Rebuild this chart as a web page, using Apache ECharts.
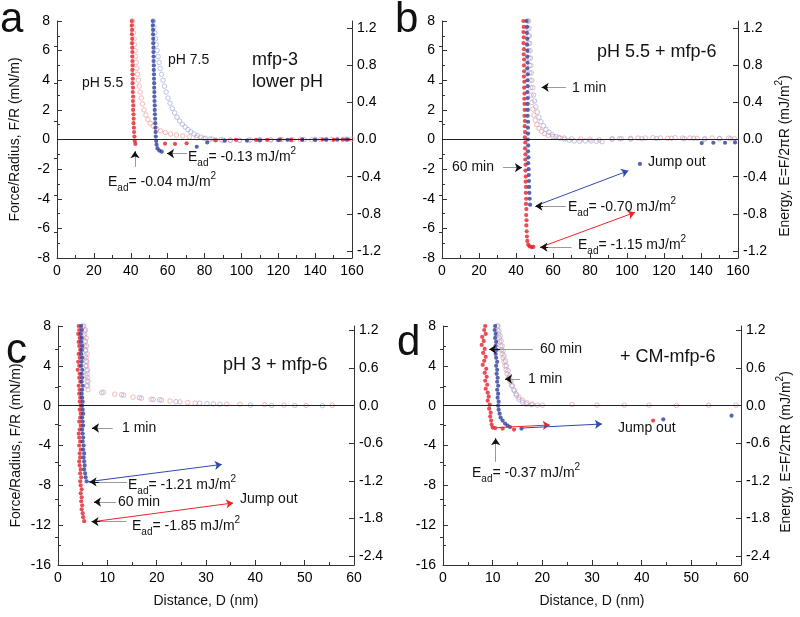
<!DOCTYPE html>
<html>
<head>
<meta charset="utf-8">
<script src="https://cdn.jsdelivr.net/npm/echarts@6/dist/echarts.min.js"></script>
<style>
  html, body { margin: 0; padding: 0; background: #fff; }
  #chart { width: 800px; height: 617px; }
</style>
</head>
<body>
<div id="chart"></div>
<script>
const FONT = '"Liberation Sans", Arial, sans-serif';
const RED = '#e1222a', BLUE = '#2d3f9c', RED_O = '#f09ca0', BLUE_O = '#a3acd9';

// ---- panel a: mfp-3, pH 5.5 (red) / pH 7.5 (blue)   [D nm, F/R mN/m]
const aRedFilled = [[40.6,8.0],[40.6,7.7],[40.7,7.4],[40.6,7.1],[40.8,6.8],[40.7,6.5],[40.8,6.2],[40.9,5.9],[40.8,5.6],[40.9,5.3],[41.0,5.0],[40.9,4.7],[41.0,4.4],[41.1,4.1],[41.0,3.8],[41.2,3.5],[41.1,3.2],[41.3,2.9],[41.2,2.6],[41.4,2.3],[41.3,2.0],[41.5,1.7],[41.6,1.4],[41.5,1.1],[41.7,0.8],[41.8,0.5],[42.0,0.2],[42.2,-0.1],[42.5,-0.3],
  [58.6,-0.28],[64,-0.3],[70.3,-0.26],[86,-0.05],[97,-0.02],[108,-0.03],[114,-0.03],[121,0],[127,-0.03],[133,-0.02],[144,0],[150,-0.02],[155,0],[158,0]];
const aRedOpen = [[41.0,8.0],[41.3,7.6],[41.5,7.2],[41.8,6.8],[42.0,6.4],[42.3,6.0],[42.6,5.6],[42.9,5.2],[43.3,4.8],[43.7,4.4],[44.1,4.0],[44.6,3.6],[45.1,3.2],[45.7,2.8],[46.4,2.4],[47.2,2.0],[48.2,1.65],[49.3,1.35],[50.6,1.1],[52.2,0.9],[54.0,0.72],[56.2,0.58],[58.8,0.47],[61.6,0.37],[64.8,0.3],[68.2,0.24],[71.8,0.18],[75.6,0.12],[79.6,0.07],[84,0.04],[89,0.0],[94,-0.03],[99,-0.05],[105,-0.03],[110,-0.02],[116,-0.03],[121,0],[127,-0.02],[132,0.0],[138,-0.02],[143,0.0],[149,0.01],[155,0],[160,0.02]];
const aBlueFilled = [[52.0,8.0],[52.0,7.7],[52.1,7.4],[52.1,7.1],[52.2,6.8],[52.2,6.5],[52.3,6.2],[52.3,5.9],[52.4,5.6],[52.4,5.3],[52.5,5.0],[52.5,4.7],[52.6,4.4],[52.6,4.1],[52.7,3.8],[52.7,3.5],[52.8,3.2],[52.8,2.9],[52.9,2.6],[53.0,2.3],[53.0,2.0],[53.1,1.7],[53.2,1.4],[53.3,1.1],[53.4,0.8],[53.5,0.5],[53.6,0.2],[53.8,-0.1],[54.0,-0.35],[54.5,-0.6],[55.5,-0.75],[56.8,-0.82],
  [75.8,-0.49],[81.5,-0.2],[91,-0.08],[103,-0.07],[110,-0.05],[120,-0.05],[125,-0.02],[133,0],[140,-0.03],[146,-0.01],[152,0],[157,0]];
const aBlueOpen = [[52.3,8.0],[52.6,7.6],[53.0,7.2],[53.4,6.8],[53.8,6.4],[54.3,6.0],[54.8,5.6],[55.4,5.2],[56.0,4.8],[56.7,4.4],[57.5,4.0],[58.3,3.6],[59.2,3.2],[60.2,2.8],[61.3,2.45],[62.5,2.1],[63.8,1.8],[65.1,1.5],[66.5,1.25],[68.0,1.03],[69.5,0.84],[71.0,0.67],[72.6,0.52],[74.3,0.38],[76.1,0.26],[78.1,0.16],[80.4,0.08],[83,0.02],[86,-0.03],[90,-0.05],[94,-0.06],[99,-0.05],[104,-0.04],[110,-0.02],[116,-0.03],[122,-0.01],[128,-0.02],[134,0],[140,0.01],[146,0],[152,0.01],[157,0.02]];

// ---- panel b: pH 5.5 + mfp-6, 60 min (red) / 1 min (blue)
const bRedFilled = [[44.0,8.0],[44.2,7.6],[44.0,7.25],[44.2,6.9],[44.1,6.5],[44.3,6.1],[44.2,5.75],[44.4,5.4],[44.3,5.0],[44.4,4.6],[44.3,4.25],[44.5,3.9],[44.4,3.5],[44.6,3.1],[44.5,2.75],[44.6,2.4],[44.7,2.0],[44.6,1.6],[44.8,1.25],[44.7,0.9],[44.9,0.5],[44.8,0.15],[45.0,-0.2],[44.9,-0.6],[45.1,-1.0],[45.0,-1.35],[45.2,-1.7],[45.1,-2.1],[45.3,-2.5],[45.2,-2.85],[45.4,-3.2],[45.3,-3.6],[45.5,-4.0],[45.4,-4.35],[45.6,-4.7],[45.5,-5.1],[45.7,-5.45],[45.6,-5.8],[45.8,-6.2],[45.9,-6.55],[46.1,-6.85],[46.6,-7.1],[47.4,-7.22],[48.4,-7.26],[49.4,-7.25]];
const bRedOpen = [[46.2,8.0],[46.4,7.5],[46.6,7.0],[46.7,6.5],[46.9,6.0],[47.0,5.5],[47.2,5.0],[47.4,4.5],[47.6,4.0],[47.9,3.5],[48.2,3.0],[48.6,2.5],[49.1,2.05],[49.7,1.65],[50.4,1.3],[51.3,1.0],[52.4,0.75],[53.8,0.55],[55.5,0.4],[57.5,0.28],[60,0.2],[63,0.14],[66,0.1],[70,0.05],[75,0.03],[80,0.02],[85,-0.02],[92,0.05],[97,0.06],[102,0.08],[106,0.1],[110,0.1],[114,0.12],[118,0.1],[122,0.08],[126,0.12],[130,0.1],[134,0.1],[138,0.08],[142,0.05],[146,0.1],[150,0.07],[155,0.1],[158,0.05]];
const bBlueFilled = [[45.8,8.0],[46.0,7.6],[45.9,7.2],[46.1,6.8],[46.0,6.4],[46.2,6.0],[46.1,5.6],[46.2,5.2],[46.1,4.8],[46.3,4.4],[46.2,4.0],[46.3,3.6],[46.2,3.2],[46.4,2.8],[46.3,2.4],[46.4,2.0],[46.3,1.6],[46.5,1.2],[46.4,0.8],[46.5,0.4],[46.4,0.0],[46.6,-0.4],[46.5,-0.8],[46.7,-1.2],[46.6,-1.6],[46.8,-2.0],[46.9,-2.4],[47.0,-2.8],[47.1,-3.2],[47.2,-3.6],[47.4,-4.0],[47.6,-4.4],
  [107,-1.65],[140.4,-0.24],[146.7,-0.22],[153,-0.22],[158.4,-0.2]];
const bBlueOpen = [[46.8,8.0],[47.0,7.5],[47.2,7.0],[47.4,6.5],[47.6,6.0],[47.8,5.5],[48.0,5.0],[48.3,4.5],[48.6,4.0],[49.0,3.5],[49.5,3.0],[50.0,2.6],[50.7,2.2],[51.5,1.85],[52.4,1.5],[53.5,1.2],[54.8,0.92],[56.2,0.68],[57.8,0.48],[59.6,0.32],[61.6,0.2],[63.8,0.1],[66.2,0.02],[68.8,-0.05],[71.5,-0.1],[74.5,-0.12],[77.5,-0.1],[80.5,-0.1],[83.5,-0.12],[86.5,-0.15],[92,0.02],[96,0.05],[102,0.02],[108,0.05],[116,0.06],[124,0.08],[131,0.05],[136,0.08],[142,0.02],[150,0.04],[156,0.05]];

// ---- panel c: pH 3 + mfp-6
const cRedFilled = [[4.2,8.0],[4.3,7.6],[4.1,7.2],[4.4,6.8],[4.2,6.4],[4.3,6.0],[4.5,5.6],[4.2,5.2],[4.4,4.8],[4.1,4.4],[4.3,4.0],[4.0,3.6],[4.4,3.2],[4.3,2.8],[4.5,2.4],[4.2,2.0],[4.4,1.6],[4.3,1.2],[4.5,0.8],[4.4,0.4],[4.6,0.0],[4.4,-0.4],[4.6,-0.8],[4.5,-1.2],[4.3,-1.6],[4.6,-2.0],[4.4,-2.4],[4.2,-2.8],[4.3,-3.2],[4.5,-3.6],[4.3,-4.0],[4.6,-4.4],[4.4,-4.8],[4.5,-5.2],[4.3,-5.6],[4.4,-6.0],[4.6,-6.4],[4.5,-6.8],[4.7,-7.2],[4.5,-7.6],[4.6,-8.0],[4.8,-8.4],[4.6,-8.8],[4.8,-9.2],[4.7,-9.6],[4.9,-10.0],[4.8,-10.4],[5.0,-10.8],[5.1,-11.2],[5.3,-11.6]];
const cRedOpen = [[5.0,8.0],[5.6,7.6],[5.4,7.2],[5.7,6.8],[5.5,6.4],[5.8,6.0],[5.6,5.6],[5.9,5.2],[5.7,4.8],[5.9,4.4],[5.8,4.0],[6.0,3.6],[5.9,3.2],[6.0,2.8],[6.1,2.4],[6.0,2.0],[6.1,1.6],[8.85,1.3],[11.5,1.15],[13.3,1.05],[15.2,0.85],[16.9,0.75],[18.9,0.64],[21.0,0.55],[22.7,0.47],[24.7,0.38],[26.3,0.32],[27.8,0.25],[31.5,0.18],[34.2,0.15],[36.9,0.15],[41.9,0.1],[45.8,0.05],[50.3,0.02],[55.6,0.03]];
const cBlueFilled = [[4.7,8.0],[4.8,7.6],[4.6,7.2],[4.8,6.8],[4.7,6.4],[4.9,6.0],[4.8,5.6],[4.7,5.2],[4.9,4.8],[4.8,4.4],[4.7,4.0],[4.9,3.6],[4.8,3.2],[4.9,2.8],[4.8,2.4],[5.0,2.0],[4.9,1.6],[4.8,1.2],[4.9,0.8],[5.0,0.4],[4.9,0.0],[5.0,-0.4],[5.1,-0.8],[4.9,-1.2],[5.0,-1.6],[5.1,-2.0],[4.9,-2.4],[5.0,-2.8],[5.1,-3.2],[5.0,-3.6],[5.2,-4.0],[5.1,-4.4],[5.3,-4.8],[5.2,-5.2],[5.3,-5.6],[5.4,-6.0],[5.3,-6.4],[5.5,-6.8],[5.6,-7.2],[5.8,-7.6]];
const cBlueOpen = [[5.2,8.0],[5.4,7.5],[5.3,7.0],[5.5,6.5],[5.4,6.0],[5.6,5.5],[5.5,5.0],[5.7,4.5],[5.6,4.0],[5.8,3.5],[5.7,3.0],[5.9,2.5],[5.8,2.0],[9.2,1.35],[12.9,1.1],[16.5,0.8],[19.3,0.62],[20.6,0.58],[23.9,0.4],[28.7,0.25],[30.2,0.2],[32.8,0.15],[39,0.05],[43.3,0.02],[48,0.02],[53.6,0.0]];

// ---- panel d: + CM-mfp-6
const dRedFilled = [[8.5,8.0],[8.3,7.6],[8.6,7.2],[7.9,6.9],[8.2,6.5],[7.8,6.1],[8.4,5.7],[8.1,5.3],[8.6,4.9],[8.3,4.5],[8.0,4.1],[8.7,3.7],[8.4,3.3],[8.8,2.9],[8.5,2.5],[8.9,2.1],[8.6,1.7],[9.0,1.3],[9.2,0.9],[9.0,0.5],[9.4,0.1],[9.3,-0.3],[9.6,-0.7],[9.5,-1.1],[9.7,-1.5],[9.8,-1.9],[10.0,-2.2],[10.5,-2.25],[12.0,-2.3],[14.3,-2.4],[42.3,-1.5]];
const dRedOpen = [[10.9,8.0],[11.0,7.6],[11.2,7.2],[11.3,6.8],[11.4,6.4],[11.6,6.0],[11.8,5.6],[11.9,5.2],[12.1,4.8],[12.3,4.4],[12.5,4.0],[12.7,3.6],[12.9,3.2],[13.2,2.8],[13.5,2.4],[13.8,2.0],[14.2,1.6],[14.7,1.2],[15.3,0.85],[16.0,0.55],[16.9,0.3],[18.0,0.15],[20,0.05],[26,0.1],[31,0.05],[36.5,0.05],[41.5,0.05],[47,0.02],[53.5,0.05],[59,0.05]];
const dBlueFilled = [[10.5,8.0],[10.4,7.6],[10.6,7.2],[10.5,6.8],[10.7,6.4],[10.6,6.0],[10.8,5.6],[10.6,5.2],[10.7,4.8],[10.9,4.4],[10.7,4.0],[10.9,3.6],[10.8,3.2],[11.0,2.8],[10.9,2.4],[11.1,2.0],[10.9,1.6],[11.1,1.2],[11.0,0.8],[11.2,0.4],[11.1,0.0],[11.2,-0.4],[11.4,-0.8],[11.6,-1.2],[12.0,-1.5],[12.5,-1.8],[13.0,-2.0],[13.5,-2.15],[15.8,-2.3],[44.35,-1.37],[58.1,-1.0]];
const dBlueOpen = [[11.1,8.0],[11.3,7.5],[11.5,7.0],[11.7,6.5],[11.9,6.0],[12.1,5.5],[12.3,5.0],[12.6,4.5],[12.8,4.0],[13.1,3.5],[13.4,3.0],[13.7,2.5],[14.0,2.0],[14.4,1.5],[14.8,1.05],[15.3,0.65],[16.0,0.35],[16.8,0.15],[17.8,0.1],[19,0.05]];

// energy axis (E = F/2πR) tick labels and minor ticks
const energyTicksAB = [-1.2, -0.8, -0.4, 0, 0.4, 0.8, 1.2];
const energyMinorAB = [-1.0, -0.6, -0.2, 0.2, 0.6, 1.0];
const energyTicksCD = [-2.4, -1.8, -1.2, -0.6, 0, 0.6, 1.2];
const energyMinorCD = [-2.1, -1.5, -0.9, -0.3, 0.3, 0.9];

// axis ranges: [xMax, xStep, yMin, yMax, yStep]
const axesA = [160, 20, -8, 8, 2];
const axesC = [60, 10, -16, 8, 4];

const chart = echarts.init(document.getElementById('chart'));

const rects = [
  { left: 57, top: 21, width: 295, height: 237 },
  { left: 442, top: 21, width: 296, height: 237 },
  { left: 58, top: 326, width: 296, height: 239 },
  { left: 443, top: 326, width: 298, height: 239 }
];
// grids 0-3 carry the data, grids 4-7 (same boxes) only carry the energy minor ticks
const grids = rects.concat(rects).map(g => Object.assign({ outerBoundsMode: 'none', containLabel: false }, g));

const axisBase = {
  axisLine: { show: true, onZero: false, lineStyle: { color: '#333', width: 1 } },
  axisTick: { show: true, inside: true, length: 5, lineStyle: { color: '#333' } },
  minorTick: { show: true, splitNumber: 2, length: 3, lineStyle: { color: '#333' } },
  splitLine: { show: false },
  nameTextStyle: { color: '#111', fontSize: 14, fontFamily: FONT }
};
const lbl = (margin, fmt) => ({ color: '#000', fontSize: 14, fontFamily: FONT, margin: margin,
  showMinLabel: true, showMaxLabel: true, formatter: fmt });

const FORCE_NAME = 'Force/Radius, F/R (mN/m)';
const DIST_NAME = 'Distance, D (nm)';
const TWO_PI = 2 * Math.PI;

const xAxes = [], yAxes = [];
[[axesA, false, true, energyTicksAB], [axesA, false, false, energyTicksAB],
 [axesC, true, true, energyTicksCD], [axesC, true, false, energyTicksCD]]
  .forEach(([r, xName, leftName, eTicks], i) => {
    xAxes.push(Object.assign({}, axisBase, {
      type: 'value', gridIndex: i, min: 0, max: r[0], interval: r[1],
      axisLabel: lbl(6),
      name: xName ? DIST_NAME : '', nameLocation: 'middle', nameGap: 29
    }));
    yAxes.push(Object.assign({}, axisBase, {
      type: 'value', gridIndex: i, position: 'left', min: r[2], max: r[3], interval: r[4],
      axisLabel: lbl(7),
      name: leftName ? FORCE_NAME : '', nameLocation: 'middle', nameGap: 35, nameRotate: 90
    }));
    // right axis: energy, same scale as F/R divided by 2π
    yAxes.push(Object.assign({}, axisBase, {
      type: 'value', gridIndex: i, position: 'right', min: r[2] / TWO_PI, max: r[3] / TWO_PI,
      axisLabel: Object.assign(lbl(5, v => v.toFixed(1)), { customValues: eTicks }),
      axisTick: { show: true, inside: true, length: 5, lineStyle: { color: '#333' }, customValues: eTicks },
      minorTick: { show: false }
    }));
  });
[[axesA, energyMinorAB], [axesA, energyMinorAB], [axesC, energyMinorCD], [axesC, energyMinorCD]]
  .forEach(([r, minors], i) => {
    xAxes.push({ type: 'value', gridIndex: 4 + i, min: 0, max: r[0], show: false });
    yAxes.push({
      type: 'value', gridIndex: 4 + i, position: 'right', min: r[2] / TWO_PI, max: r[3] / TWO_PI,
      axisLine: { show: false }, axisLabel: { show: false }, splitLine: { show: false },
      axisTick: { show: true, inside: true, length: 3, lineStyle: { color: '#333' }, customValues: minors }
    });
  });

// arrows in data coordinates
function arrow(p, q, color) {
  return [{ coord: p, symbol: 'none' },
          { coord: q, symbol: 'arrow', symbolSize: 7, lineStyle: { color: color, width: 1, type: 'solid' } }];
}
function pointer(tail, tip) {
  const mid = [tip[0] + (tail[0] - tip[0]) * 0.25, tip[1] + (tail[1] - tip[1]) * 0.25];
  return [
    [{ coord: tail, symbol: 'none' }, { coord: mid, symbol: 'none', lineStyle: { color: '#9a9a9a', width: 1, type: 'solid' } }],
    arrow(mid, tip, '#111')
  ];
}
const marks = [
  [].concat(pointer([70.5, -0.95], [59.7, -0.95]), pointer([42.3, -1.85], [42.3, -0.8])),
  [].concat(pointer([67, 3.52], [53.9, 3.52]), pointer([33, -1.9], [43.2, -1.9]),
    [arrow([50.8, -4.47], [100.7, -2.11], '#3049b0'), arrow([53, -7.28], [104.3, -4.92], '#f0222a')],
    pointer([67, -4.5], [50.5, -4.5]), pointer([70, -7.27], [53.2, -7.27])),
  [].concat(pointer([11.1, -2.24], [6.9, -2.24]),
    [arrow([6.1, -7.64], [33.2, -5.9], '#3049b0'), arrow([7.1, -11.65], [35.5, -9.77], '#f0222a')],
    pointer([14, -7.66], [6.4, -7.66]), pointer([11.7, -9.67], [7.3, -9.67]), pointer([13.9, -11.65], [6.8, -11.65])),
  [].concat(pointer([18.1, 5.66], [9.3, 5.66]), pointer([15.5, 2.68], [12.5, 2.68]),
    [arrow([10.8, -2.21], [21.5, -1.94], '#f0222a'), arrow([16.1, -2.24], [32, -1.84], '#3049b0')],
    pointer([10.6, -5.63], [10.6, -3.28]))
];

const panels = [
  [aRedOpen, aBlueOpen, aRedFilled, aBlueFilled],
  [bRedOpen, bBlueOpen, bRedFilled, bBlueFilled],
  [cRedOpen, cBlueOpen, cRedFilled, cBlueFilled],
  [dRedOpen, dBlueOpen, dRedFilled, dBlueFilled]
];
const series = [];
panels.forEach((p, i) => {
  const styles = [
    { symbolSize: 4.5, itemStyle: { color: 'rgba(255,255,255,0)', borderColor: RED_O, borderWidth: 0.9 } },
    { symbolSize: 4.5, itemStyle: { color: 'rgba(255,255,255,0)', borderColor: BLUE_O, borderWidth: 0.9 } },
    { symbolSize: 4.2, itemStyle: { color: RED } },
    { symbolSize: 4.2, itemStyle: { color: BLUE } }
  ];
  p.forEach((d, k) => {
    series.push(Object.assign({
      type: 'scatter', xAxisIndex: i, yAxisIndex: 2 * i, data: d, symbol: 'circle', silent: true
    }, styles[k]));
  });
  // zero line and annotation arrows
  series.push({
    type: 'line', xAxisIndex: i, yAxisIndex: 2 * i, data: [], silent: true,
    markLine: {
      silent: true, animation: false, symbol: ['none', 'none'], label: { show: false },
      lineStyle: { color: '#111', width: 1, type: 'solid' },
      data: [{ yAxis: 0, lineStyle: { color: '#222', width: 1, type: 'solid' } }].concat(marks[i])
    }
  });
});

// text annotations (pixel positions)
const rich = {
  n: { fontSize: 14, fontFamily: FONT, fill: '#111', lineHeight: 22 },
  s: { fontSize: 10, fontFamily: FONT, fill: '#111', lineHeight: 10, verticalAlign: 'bottom' },
  p: { fontSize: 10, fontFamily: FONT, fill: '#111', lineHeight: 10, verticalAlign: 'top' }
};
function txt(x, y, text, size) {
  return { type: 'text', x: x, y: y, silent: true,
    style: { text: text, fontSize: size || 14, fontFamily: FONT, fill: '#111', verticalAlign: 'middle' } };
}
function ead(x, y, val) {
  return { type: 'text', x: x, y: y, silent: true,
    style: { text: '{n|E}{s|ad}{n|= ' + val + ' mJ/m}{p|2}', rich: rich, verticalAlign: 'middle', fill: '#111' } };
}
function energyName(x, y) {
  return { type: 'text', x: x, y: y, rotation: Math.PI / 2, silent: true,
    style: { text: '{n|Energy, E=F/2πR (mJ/m}{p|2}{n|)}', rich: rich, align: 'center', verticalAlign: 'middle', fill: '#111' } };
}
const graphics = [
  txt(0, 20, 'a', 42), txt(395, 20, 'b', 42), txt(6, 351, 'c', 42), txt(397, 343, 'd', 42),
  energyName(785, 156), energyName(786, 452),
  txt(82, 83, 'pH 5.5'), txt(168, 60, 'pH 7.5'), txt(252, 60, 'mfp-3', 18), txt(252, 82, 'lower pH', 18),
  ead(188, 157, '-0.13'), ead(108, 182, '-0.04'),
  txt(597, 52, 'pH 5.5 + mfp-6', 18), txt(572, 88, '1 min'), txt(452, 167, '60 min'), txt(648, 162, 'Jump out'),
  ead(568, 207, '-0.70'), ead(578, 245, '-1.15'),
  txt(223, 365, 'pH 3 + mfp-6', 18), txt(122, 428, '1 min'), ead(128, 485, '-1.21'), txt(118, 502, '60 min'),
  txt(240, 499, 'Jump out'), ead(132, 526, '-1.85'),
  txt(620, 357, '+ CM-mfp-6', 18), txt(540, 349, '60 min'), txt(528, 379, '1 min'), txt(618, 428, 'Jump out'),
  ead(472, 473, '-0.37')
];

chart.setOption({
  animation: false,
  backgroundColor: '#fff',
  grid: grids,
  xAxis: xAxes,
  yAxis: yAxes,
  series: series,
  graphic: graphics
});
</script>
</body>
</html>
